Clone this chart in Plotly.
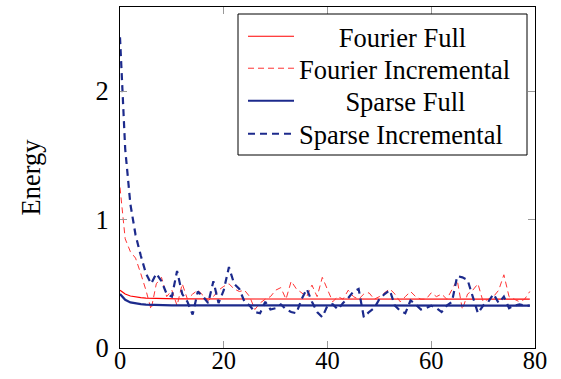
import plotly.graph_objects as go

iterations = list(range(80))

fourier_full = [0.45, 0.42, 0.405, 0.397, 0.392, 0.389, 0.387, 0.385, 0.384, 0.383] + [0.382] * 10 + [0.381] * 20 + [0.38] * 40
sparse_full = [0.42, 0.375, 0.355, 0.346, 0.341, 0.338, 0.336, 0.335, 0.334, 0.333] + [0.332] * 10 + [0.331] * 20 + [0.33] * 40

fourier_incremental = [
    1.25, 0.85, 0.75, 0.70, 0.58, 0.45, 0.30, 0.50, 0.55, 0.40,
    0.45, 0.33, 0.50, 0.38, 0.42, 0.45, 0.41, 0.37, 0.40, 0.45,
    0.48, 0.50, 0.46, 0.44, 0.45, 0.40, 0.30, 0.35, 0.38, 0.40,
    0.45, 0.47, 0.38, 0.52, 0.46, 0.43, 0.40, 0.49, 0.40, 0.55,
    0.45, 0.36, 0.40, 0.38, 0.45, 0.40, 0.38, 0.42, 0.43, 0.38,
    0.40, 0.43, 0.46, 0.42, 0.36, 0.40, 0.44, 0.40, 0.38, 0.38,
    0.43, 0.40, 0.42, 0.38, 0.45, 0.53, 0.30, 0.42, 0.45, 0.50,
    0.36, 0.38, 0.40, 0.45, 0.57, 0.40, 0.38, 0.36, 0.38, 0.44,
]
sparse_incremental = [
    2.42, 1.55, 1.12, 0.88, 0.72, 0.58, 0.50, 0.58, 0.52, 0.42,
    0.40, 0.60, 0.42, 0.36, 0.26, 0.44, 0.40, 0.35, 0.52, 0.35,
    0.45, 0.63, 0.50, 0.46, 0.36, 0.33, 0.28, 0.27, 0.36, 0.30,
    0.31, 0.34, 0.30, 0.28, 0.27, 0.38, 0.46, 0.36, 0.28, 0.24,
    0.33, 0.34, 0.30, 0.35, 0.39, 0.44, 0.46, 0.24, 0.28, 0.31,
    0.38, 0.42, 0.45, 0.33, 0.29, 0.27, 0.37, 0.34, 0.30, 0.31,
    0.33, 0.31, 0.28, 0.33, 0.36, 0.56, 0.55, 0.53, 0.40, 0.27,
    0.33, 0.36, 0.42, 0.35, 0.40, 0.31, 0.33, 0.34, 0.33, 0.33,
]

series_names = ["Fourier Full", "Fourier Incremental", "Sparse Full", "Sparse Incremental"]
x_ticks = [0, 20, 40, 60, 80]
y_ticks = [0, 1, 2]

RED = "#ff0000"
NAVY = "#1c2a8c"
FONT = "Liberation Serif"
FS = 26.5
NB = "\u00a0"
pad = [6, 0, 7, 0]

# plot area in pixels: left 120, right 535, top 7, bottom 348
def px_x(p):
    return (p - 120) / 415.0

def px_y(p):
    return (348 - p) / 341.0

legend_rows = [36.5, 68.5, 101, 134]

styles = [
    dict(color=RED, width=1.2),
    dict(color="#ff3333", width=1, dash="6px,4px"),
    dict(color=NAVY, width=2.2),
    dict(color=NAVY, width=2.2, dash="7px,5px"),
]
data = [fourier_full, fourier_incremental, sparse_full, sparse_incremental]

fig = go.Figure()
legend_ids = ["legend", "legend2", "legend3", "legend4"]
for i in range(4):
    fig.add_trace(go.Scatter(
        x=iterations, y=data[i], mode="lines",
        name=NB * pad[i] + series_names[i],
        line=styles[i], legend=legend_ids[i],
    ))

layout_legends = {}
for i, lid in enumerate(legend_ids):
    layout_legends[lid] = dict(
        x=px_x(243), y=px_y(legend_rows[i]), xanchor="left", yanchor="middle",
        borderwidth=0, bgcolor="rgba(0,0,0,0)",
        font=dict(family=FONT, size=FS, color="black"),
        itemwidth=46,
    )

fig.update_layout(
    width=561, height=379,
    margin=dict(l=120, r=26, t=7, b=31, autoexpand=False),
    paper_bgcolor="white", plot_bgcolor="white",
    font=dict(family=FONT, size=FS, color="black"),
    showlegend=True,
    shapes=[dict(
        type="rect", xref="paper", yref="paper",
        x0=px_x(238), x1=px_x(527), y0=px_y(155), y1=px_y(14),
        line=dict(color="black", width=1), fillcolor="white", layer="above",
    )],
    **layout_legends,
)
fig.update_xaxes(
    range=[0, 80], tickvals=x_ticks, ticks="inside", ticklen=7, tickcolor="#999999",
    showline=True, linecolor="black", linewidth=1, mirror="allticks",
    showgrid=False, zeroline=False, tickfont=dict(family=FONT, size=24.5),
    ticklabelstandoff=-9, automargin=False,
)
fig.update_yaxes(
    range=[0, 2.655], tickvals=y_ticks, ticks="inside", ticklen=7, tickcolor="#999999",
    showline=True, linecolor="black", linewidth=1, mirror="allticks",
    showgrid=False, zeroline=False, tickfont=dict(family=FONT, size=FS),
    ticklabelstandoff=5, automargin=False,
    title=dict(text="Energy", font=dict(family=FONT, size=FS), standoff=47),
)

fig.write_html("out.html", config={"displayModeBar": False},
               post_script="document.body.style.margin='0';")
